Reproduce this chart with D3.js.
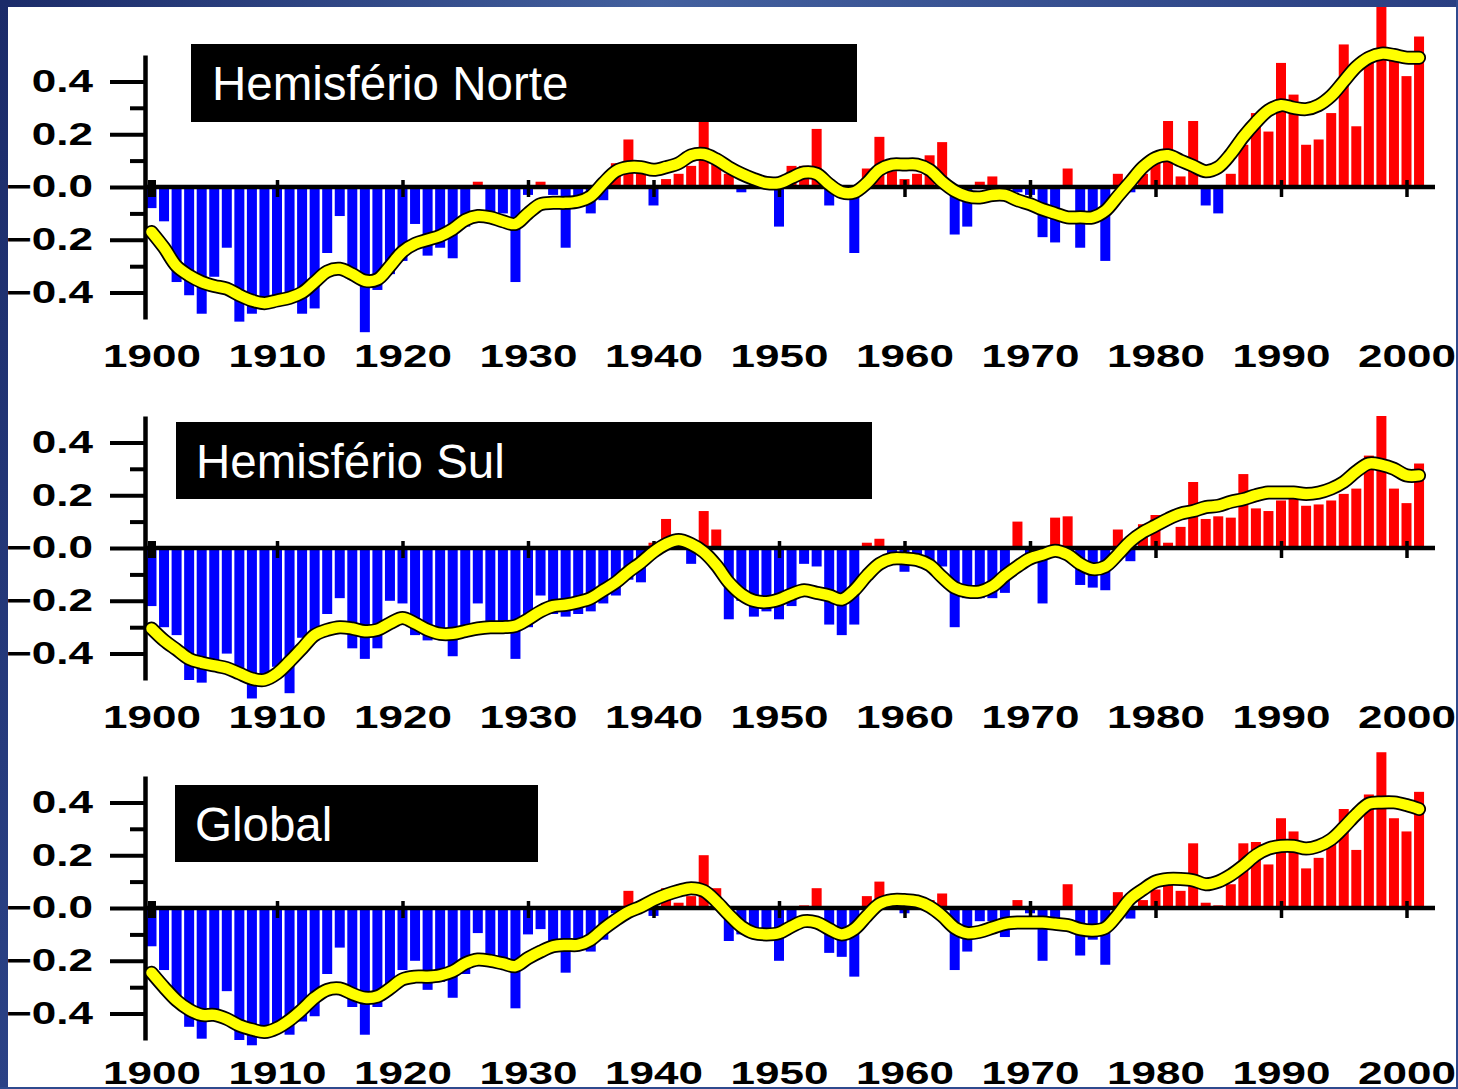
<!DOCTYPE html>
<html>
<head>
<meta charset="utf-8">
<script src="https://d3js.org/d3.v7.min.js"></script>
<style>
body { margin: 0; background: #fff; }
svg { display: block; }
</style>
</head>
<body>
<script>
// anos e rótulos
var years = d3.range(1900, 2002);
var decades = [1900, 1910, 1920, 1930, 1940, 1950, 1960, 1970, 1980, 1990, 2000];
var yMajor = [0.4, 0.2, 0, -0.2, -0.4];
var yMajorLabels = ["0.4", "0.2", "\u22120.0", "\u22120.2", "\u22120.4"];
var yMinor = [0.3, 0.1, -0.1, -0.3];
var titles = ["Hemisf\u00e9rio Norte", "Hemisf\u00e9rio Sul", "Global"];

// Hemisfério Norte
var nhBars = [
  -0.08, -0.13, -0.36, -0.41, -0.48, -0.34, -0.23, -0.51, -0.48, -0.44,
  -0.43, -0.42, -0.48, -0.46, -0.25, -0.11, -0.35, -0.55, -0.39, -0.33,
  -0.28, -0.14, -0.26, -0.23, -0.27, -0.15, 0.02, -0.10, -0.10, -0.36,
  -0.03, 0.02, -0.03, -0.23, -0.05, -0.10, -0.05, 0.09, 0.18, 0.05,
  -0.07, 0.03, 0.05, 0.08, 0.25, 0.09, 0.05, -0.02, 0.05, 0.01,
  -0.15, 0.08, 0.08, 0.22, -0.07, -0.03, -0.25, 0.07, 0.19, 0.06,
  0.03, 0.05, 0.12, 0.17, -0.18, -0.15, 0.02, 0.04, -0.02, -0.02,
  -0.03, -0.19, -0.21, 0.07, -0.23, -0.10, -0.28, 0.05, -0.02, 0.05,
  0.10, 0.25, 0.04, 0.25, -0.07, -0.10, 0.05, 0.16, 0.28, 0.21,
  0.47, 0.35, 0.16, 0.18, 0.28, 0.54, 0.23, 0.51, 0.70, 0.48,
  0.42, 0.57
];
var nhSmooth = [
  -0.17, -0.23, -0.30, -0.335, -0.36, -0.375, -0.385, -0.41, -0.43, -0.44,
  -0.43, -0.42, -0.40, -0.36, -0.32, -0.31, -0.33, -0.355, -0.35, -0.30,
  -0.245, -0.215, -0.20, -0.185, -0.16, -0.125, -0.11, -0.115, -0.13, -0.14,
  -0.10, -0.065, -0.06, -0.06, -0.055, -0.035, 0.015, 0.06, 0.075, 0.075,
  0.065, 0.075, 0.09, 0.12, 0.125, 0.105, 0.075, 0.05, 0.03, 0.015,
  0.015, 0.035, 0.055, 0.05, 0.01, -0.02, -0.02, 0.015, 0.065, 0.085,
  0.085, 0.085, 0.065, 0.02, -0.015, -0.035, -0.04, -0.03, -0.03, -0.05,
  -0.065, -0.085, -0.10, -0.115, -0.115, -0.115, -0.09, -0.035, 0.02, 0.075,
  0.11, 0.12, 0.10, 0.08, 0.06, 0.075, 0.125, 0.19, 0.245, 0.29,
  0.31, 0.30, 0.295, 0.31, 0.345, 0.40, 0.455, 0.49, 0.505, 0.50,
  0.49, 0.49
];

// Hemisfério Sul
var shBars = [
  -0.22, -0.30, -0.33, -0.50, -0.51, -0.45, -0.40, -0.48, -0.57, -0.50,
  -0.45, -0.55, -0.34, -0.35, -0.25, -0.19, -0.38, -0.42, -0.38, -0.20,
  -0.21, -0.33, -0.35, -0.34, -0.41, -0.33, -0.21, -0.32, -0.30, -0.42,
  -0.30, -0.18, -0.25, -0.26, -0.25, -0.24, -0.21, -0.18, -0.12, -0.13,
  0.02, 0.11, 0.00, -0.06, 0.14, 0.07, -0.27, -0.20, -0.26, -0.24,
  -0.27, -0.22, -0.06, -0.07, -0.29, -0.33, -0.29, 0.02, 0.035, -0.03,
  -0.09, -0.05, -0.08, -0.07, -0.30, -0.19, -0.19, -0.19, -0.17, 0.10,
  -0.05, -0.21, 0.115, 0.12, -0.14, -0.15, -0.16, 0.07, -0.05, 0.09,
  0.125, 0.02, 0.08, 0.25, 0.11, 0.12, 0.115, 0.28, 0.15, 0.14,
  0.18, 0.23, 0.16, 0.165, 0.18, 0.205, 0.225, 0.35, 0.50, 0.225,
  0.17, 0.32
];
var shSmooth = [
  -0.305, -0.35, -0.385, -0.42, -0.435, -0.445, -0.455, -0.475, -0.495, -0.50,
  -0.475, -0.43, -0.38, -0.33, -0.31, -0.30, -0.305, -0.315, -0.31, -0.285,
  -0.265, -0.285, -0.31, -0.325, -0.325, -0.315, -0.305, -0.30, -0.30, -0.295,
  -0.27, -0.24, -0.22, -0.215, -0.205, -0.19, -0.16, -0.13, -0.09, -0.055,
  -0.015, 0.015, 0.03, 0.015, -0.015, -0.065, -0.13, -0.175, -0.20, -0.205,
  -0.195, -0.175, -0.16, -0.17, -0.18, -0.195, -0.16, -0.105, -0.06, -0.04,
  -0.04, -0.045, -0.065, -0.11, -0.15, -0.165, -0.165, -0.145, -0.105, -0.07,
  -0.04, -0.025, -0.01, -0.025, -0.06, -0.08, -0.07, -0.025, 0.025, 0.06,
  0.085, 0.11, 0.13, 0.14, 0.155, 0.16, 0.175, 0.185, 0.20, 0.21,
  0.21, 0.21, 0.205, 0.21, 0.225, 0.25, 0.29, 0.32, 0.315, 0.30,
  0.275, 0.275
];

// Global
var glBars = [
  -0.145, -0.235, -0.35, -0.45, -0.495, -0.42, -0.315, -0.50, -0.52, -0.47,
  -0.45, -0.48, -0.43, -0.41, -0.25, -0.15, -0.375, -0.48, -0.375, -0.32,
  -0.235, -0.20, -0.31, -0.28, -0.34, -0.25, -0.095, -0.22, -0.20, -0.38,
  -0.10, -0.08, -0.15, -0.245, -0.15, -0.165, -0.12, -0.02, 0.065, -0.01,
  -0.03, 0.075, 0.02, 0.045, 0.20, 0.075, -0.125, -0.10, -0.10, -0.12,
  -0.20, -0.05, 0.01, 0.075, -0.17, -0.185, -0.26, 0.045, 0.10, 0.03,
  -0.02, 0.03, 0.03, 0.055, -0.235, -0.165, -0.05, -0.05, -0.11, 0.03,
  -0.02, -0.20, -0.08, 0.09, -0.18, -0.12, -0.215, 0.06, -0.04, 0.03,
  0.07, 0.13, 0.065, 0.245, 0.02, 0.01, 0.09, 0.245, 0.25, 0.165,
  0.34, 0.29, 0.15, 0.19, 0.245, 0.375, 0.22, 0.43, 0.59, 0.34,
  0.29, 0.44
];
var glSmooth = [
  -0.245, -0.30, -0.35, -0.385, -0.405, -0.405, -0.42, -0.445, -0.46, -0.47,
  -0.455, -0.425, -0.385, -0.34, -0.31, -0.305, -0.325, -0.34, -0.335, -0.305,
  -0.27, -0.26, -0.26, -0.255, -0.24, -0.21, -0.195, -0.20, -0.21, -0.22,
  -0.19, -0.165, -0.145, -0.14, -0.14, -0.12, -0.08, -0.045, -0.015, 0.005,
  0.03, 0.05, 0.065, 0.075, 0.065, 0.025, -0.025, -0.07, -0.095, -0.10,
  -0.095, -0.07, -0.05, -0.055, -0.08, -0.10, -0.08, -0.03, 0.015, 0.03,
  0.03, 0.025, 0.005, -0.03, -0.075, -0.095, -0.09, -0.075, -0.06, -0.055,
  -0.055, -0.055, -0.06, -0.065, -0.08, -0.085, -0.075, -0.025, 0.035, 0.07,
  0.10, 0.11, 0.11, 0.105, 0.09, 0.10, 0.125, 0.16, 0.20, 0.225,
  0.235, 0.235, 0.225, 0.235, 0.26, 0.305, 0.355, 0.395, 0.40, 0.40,
  0.39, 0.375
];

var W = 1458, H = 1089;
var font = "'Liberation Sans', Arial, Helvetica, sans-serif";
var stretch = 1.42;   // os rótulos do original são alargados na horizontal

var panels = [
  {title: titles[0], bars: nhBars, smooth: nhSmooth, zero: 187, labelY: 165, box: [191, 44, 666, 78], tx: 212, ty: 100},
  {title: titles[1], bars: shBars, smooth: shSmooth, zero: 548, labelY: 165, box: [176, 422, 696, 77], tx: 196, ty: 478},
  {title: titles[2], bars: glBars, smooth: glSmooth, zero: 908, labelY: 161, box: [175, 785, 363, 77], tx: 195, ty: 841}
];

var svg = d3.select("body").append("svg")
    .attr("width", W)
    .attr("height", H);

svg.append("rect").attr("width", W).attr("height", H).attr("fill", "#fff");

var x = d3.scaleLinear().domain([1900, 2000]).range([151.5, 1406.5]);

panels.forEach(function(p) {
  var y = d3.scaleLinear().domain([-0.5, 0.5]).range([p.zero + 132, p.zero - 132]);
  var g = svg.append("g");

  // barras
  g.selectAll("rect.bar")
      .data(years)
    .enter().append("rect")
      .attr("class", "bar")
      .attr("x", function(d) { return x(d) - 5; })
      .attr("width", 10)
      .attr("y", function(d, i) { return Math.min(y(p.bars[i]), y(0)); })
      .attr("height", function(d, i) { return Math.abs(y(p.bars[i]) - y(0)); })
      .attr("fill", function(d, i) { return p.bars[i] >= 0 ? "#ff0000" : "#0000ff"; });

  // linha do zero
  g.append("line")
      .attr("x1", 147).attr("x2", 1435)
      .attr("y1", y(0)).attr("y2", y(0))
      .attr("stroke", "#000").attr("stroke-width", 4.5);

  // eixo x
  var xAxis = g.append("g")
      .attr("transform", "translate(0," + (y(0) - 7) + ")")
      .call(d3.axisBottom(x).tickValues(decades).tickSizeInner(17).tickSizeOuter(0).tickFormat(d3.format("d")));
  xAxis.select(".domain").remove();
  xAxis.selectAll(".tick line")
      .attr("stroke", "#000")
      .attr("stroke-width", function(d) { return d === 1900 ? 8 : 3.5; });
  xAxis.selectAll(".tick text")
      .attr("y", p.labelY)
      .attr("fill", "#000")
      .style("font-family", font)
      .style("font-weight", "bold")
      .style("font-size", "31px")
      .attr("transform", "scale(" + stretch + ",1)");

  // eixo y: marcas maiores com rótulos
  var yAxis = g.append("g")
      .attr("transform", "translate(145,0)")
      .call(d3.axisLeft(y).tickValues(yMajor).tickSizeInner(35).tickSizeOuter(0)
        .tickFormat(function(d, i) { return yMajorLabels[i]; }));
  yAxis.select(".domain").attr("stroke", "#000").attr("stroke-width", 4.5);
  yAxis.selectAll(".tick line").attr("stroke", "#000").attr("stroke-width", 4);
  yAxis.selectAll(".tick text")
      .attr("x", -52 / stretch)
      .attr("fill", "#000")
      .style("font-family", font)
      .style("font-weight", "bold")
      .style("font-size", "31px")
      .attr("transform", "scale(" + stretch + ",1)");

  // marcas menores
  var yMinorAxis = g.append("g")
      .attr("transform", "translate(145,0)")
      .call(d3.axisLeft(y).tickValues(yMinor).tickSize(15).tickFormat(""));
  yMinorAxis.select(".domain").remove();
  yMinorAxis.selectAll(".tick line").attr("stroke", "#000").attr("stroke-width", 4);

  // curva suavizada
  var line = d3.line()
      .x(function(d, i) { return x(years[i]); })
      .y(function(d) { return y(d); })
      .curve(d3.curveCatmullRom.alpha(0.5));

  g.append("path")
      .datum(p.smooth)
      .attr("d", line)
      .attr("fill", "none")
      .attr("stroke", "#000")
      .attr("stroke-width", 14)
      .attr("stroke-linecap", "round")
      .attr("stroke-linejoin", "round");
  g.append("path")
      .datum(p.smooth)
      .attr("d", line)
      .attr("fill", "none")
      .attr("stroke", "#ffff00")
      .attr("stroke-width", 10.5)
      .attr("stroke-linecap", "round")
      .attr("stroke-linejoin", "round");

  // caixa do título
  g.append("rect")
      .attr("x", p.box[0]).attr("y", p.box[1])
      .attr("width", p.box[2]).attr("height", p.box[3])
      .attr("fill", "#000");
  g.append("text")
      .attr("x", p.tx).attr("y", p.ty)
      .attr("fill", "#fff")
      .style("font-family", font)
      .style("font-size", "47.5px")
      .text(p.title);
});

// moldura azul do slide
var defs = svg.append("defs");
var gradTop = defs.append("linearGradient").attr("id", "gtop");
gradTop.append("stop").attr("offset", "0%").attr("stop-color", "#1b2b69");
gradTop.append("stop").attr("offset", "45%").attr("stop-color", "#43609e");
gradTop.append("stop").attr("offset", "100%").attr("stop-color", "#2a3f82");
var gradLeft = defs.append("linearGradient").attr("id", "gleft")
    .attr("x1", 0).attr("y1", 0).attr("x2", 0).attr("y2", 1);
gradLeft.append("stop").attr("offset", "0%").attr("stop-color", "#1b2b69");
gradLeft.append("stop").attr("offset", "100%").attr("stop-color", "#2b4286");

svg.append("rect").attr("x", 0).attr("y", 0).attr("width", W).attr("height", 7).attr("fill", "url(#gtop)");
svg.append("rect").attr("x", 0).attr("y", 0).attr("width", 8).attr("height", H).attr("fill", "url(#gleft)");
svg.append("rect").attr("x", 1456).attr("y", 0).attr("width", 2).attr("height", H).attr("fill", "#2f4a8e");
svg.append("rect").attr("x", 0).attr("y", 1087).attr("width", W).attr("height", 2).attr("fill", "#2f4a8e");
</script>
</body>
</html>
